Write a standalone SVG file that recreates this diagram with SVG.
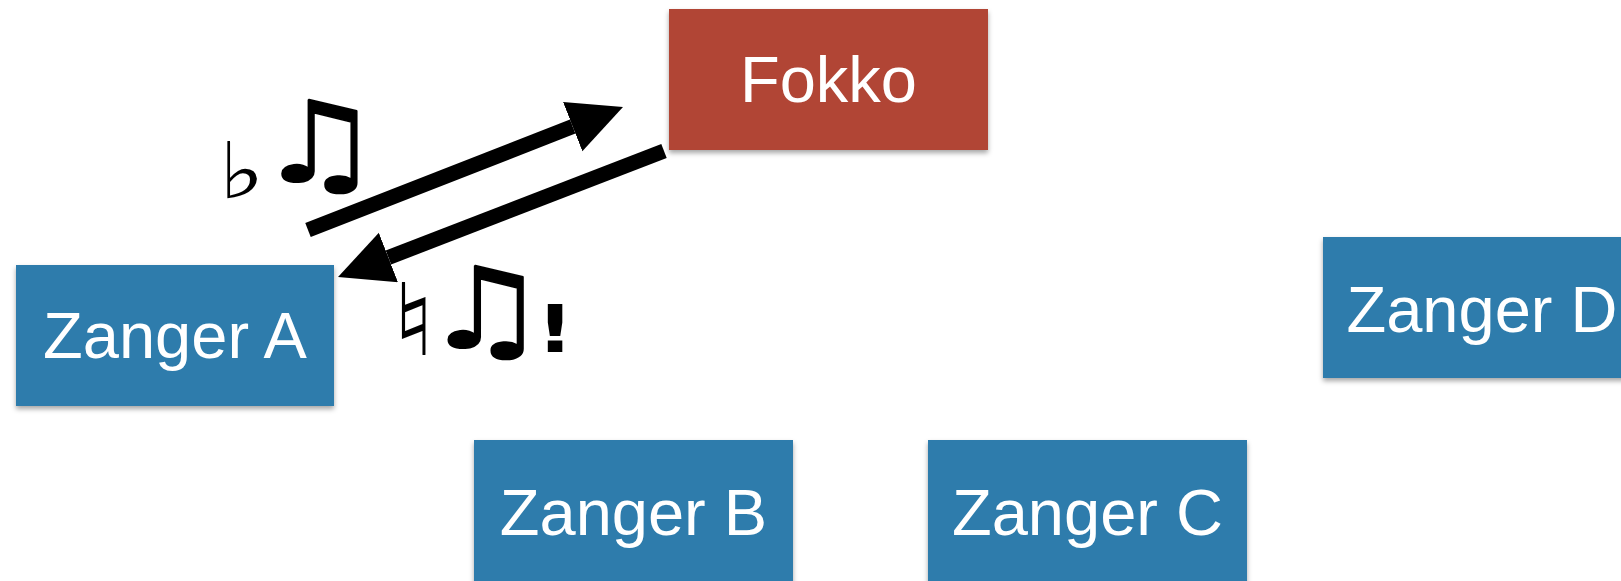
<svg xmlns="http://www.w3.org/2000/svg" width="1621" height="581" viewBox="0 0 1621 581">
  <style>
    .box-blue { fill: #2e7bac; }
    .box-red { fill: #b14535; }
    .label { font-family: "Liberation Sans", Arial, sans-serif; font-size: 65px; fill: #ffffff; text-anchor: middle; }
    .sym { font-family: "DejaVu Sans", sans-serif; fill: #000000; }
    .notes { font-size: 113px; font-weight: bold; stroke: #000000; stroke-width: 1.5; }
    .tight { letter-spacing: -18px; }
    .conn { stroke: #000000; stroke-width: 15; fill: none; stroke-linecap: butt; }
  </style>
  <defs>
    <filter id="shadow" x="-10%" y="-10%" width="120%" height="130%">
      <feDropShadow dx="0" dy="3" stdDeviation="2.5" flood-color="#000" flood-opacity="0.35"/>
    </filter>
    <marker id="head" markerUnits="userSpaceOnUse" markerWidth="56" markerHeight="56" refX="0" refY="26.5" orient="auto" viewBox="0 0 56 56">
      <path d="M0,0 L54,26.5 L0,53 Z" fill="#000000"/>
    </marker>
  </defs>
  <rect width="1621" height="581" fill="#ffffff"/>

  <g id="fokko">
    <rect class="box-red" x="669" y="9" width="319" height="141" filter="url(#shadow)"/>
    <text class="label" x="828.5" y="102">Fokko</text>
  </g>
  <g id="zanger-a">
    <rect class="box-blue" x="16" y="265" width="318" height="141" filter="url(#shadow)"/>
    <text class="label" x="175" y="358">Zanger A</text>
  </g>
  <g id="zanger-b">
    <rect class="box-blue" x="474" y="440" width="319" height="150" filter="url(#shadow)"/>
    <text class="label" x="633.5" y="535">Zanger B</text>
  </g>
  <g id="zanger-c">
    <rect class="box-blue" x="928" y="440" width="319" height="150" filter="url(#shadow)"/>
    <text class="label" x="1087.5" y="535">Zanger C</text>
  </g>
  <g id="zanger-d">
    <rect class="box-blue" x="1323" y="237" width="318" height="141" filter="url(#shadow)"/>
    <text class="label" x="1482" y="332">Zanger D</text>
  </g>

  <g id="connectors">
    <line class="conn" x1="308" y1="230" x2="572.7" y2="126.6" marker-end="url(#head)"/>
    <line class="conn" x1="664" y1="151" x2="388.4" y2="257.5" marker-end="url(#head)"/>
  </g>

  <g id="labels">
    <text class="sym" transform="scale(1.25,1)"><tspan class="tight" x="175" y="198" font-size="78">♭</tspan><tspan class="notes" x="205" y="182">♫</tspan></text>
    <text class="sym" transform="scale(1.25,1)"><tspan class="tight" x="313" y="355" font-size="100">♮</tspan><tspan class="notes tight" x="338" y="348">♫</tspan><tspan x="429" y="352" font-size="66" font-weight="bold">!</tspan></text>
  </g>
</svg>
